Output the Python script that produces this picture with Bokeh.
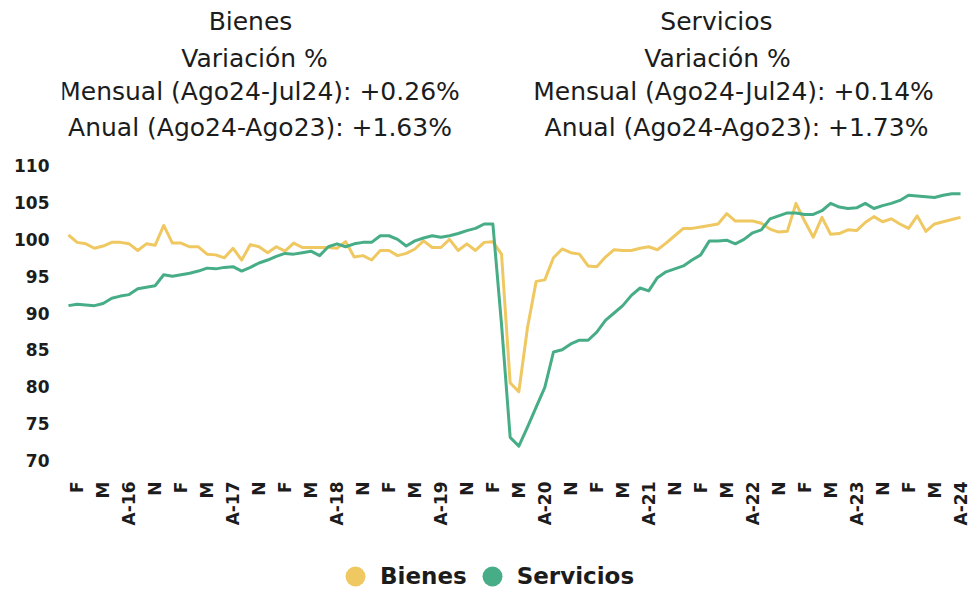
import math
from bokeh.plotting import figure
from bokeh.layouts import column
from bokeh.models import Range1d, FixedTicker, Legend, LegendItem
from bokeh.core.properties import value
from bokeh.embed import file_html
from bokeh.resources import INLINE

# ---------------- data (monthly index, Jan-2016 .. Aug-2024) ----------------
month_index = list(range(104))

bienes = [
    100.6, 99.6, 99.4, 98.8, 99.1, 99.6, 99.6, 99.4, 98.5, 99.4,
    99.2, 101.9, 99.5, 99.5, 99.0, 99.0, 98.0, 97.9, 97.5, 98.8,
    97.2, 99.3, 99.0, 98.2, 99.0, 98.4, 99.5, 98.9, 98.9, 98.9,
    98.9, 98.8, 99.7, 97.6, 97.8, 97.2, 98.5, 98.5, 97.8, 98.1,
    98.7, 99.8, 98.9, 98.9, 100.0, 98.5, 99.4, 98.5, 99.6, 99.7,
    98.0, 80.5, 79.3, 88.0, 94.3, 94.5, 97.5, 98.7, 98.2, 98.0,
    96.4, 96.3, 97.6, 98.6, 98.5, 98.5, 98.8, 99.0, 98.6, 99.5,
    100.5, 101.5, 101.5, 101.7, 101.9, 102.1, 103.5, 102.5, 102.5, 102.5,
    102.2, 101.4, 101.0, 101.1, 104.9, 102.5, 100.3, 103.0, 100.7, 100.8,
    101.3, 101.2, 102.3, 103.1, 102.4, 102.8, 102.1, 101.5, 103.2, 101.1,
    102.1, 102.4, 102.7, 103.0,
]

servicios = [
    91.0, 91.2, 91.1, 91.0, 91.3, 92.0, 92.3, 92.5, 93.3, 93.5,
    93.7, 95.2, 95.0, 95.2, 95.4, 95.7, 96.1, 96.0, 96.2, 96.3,
    95.7, 96.2, 96.8, 97.2, 97.7, 98.1, 98.0, 98.2, 98.4, 97.8,
    99.0, 99.4, 99.0, 99.4, 99.6, 99.6, 100.5, 100.5, 100.0, 99.1,
    99.8, 100.2, 100.5, 100.3, 100.5, 100.8, 101.2, 101.5, 102.1, 102.1,
    88.5, 73.1, 71.9, 74.5, 77.2, 79.9, 84.7, 85.0, 85.8, 86.3,
    86.3, 87.4, 89.0, 90.0, 91.0, 92.4, 93.4, 93.0, 94.8, 95.6,
    96.0, 96.4, 97.2, 97.9, 99.8, 99.8, 99.9, 99.4, 100.0, 100.9,
    101.3, 102.8, 103.2, 103.6, 103.6, 103.4, 103.4, 103.9, 104.9, 104.4,
    104.2, 104.3, 104.9, 104.2, 104.6, 104.9, 105.3, 106.0, 105.9, 105.8,
    105.7, 106.0, 106.2, 106.2,
]

tick_labels = [
    "F", "M", "A-16", "N", "F", "M", "A-17", "N", "F", "M", "A-18", "N",
    "F", "M", "A-19", "N", "F", "M", "A-20", "N", "F", "M", "A-21", "N",
    "F", "M", "A-22", "N", "F", "M", "A-23", "N", "F", "M", "A-24",
]
tick_months = [1 + 3 * k for k in range(len(tick_labels))]
y_ticks = [70, 75, 80, 85, 90, 95, 100, 105, 110]

series_names = ["Bienes", "Servicios"]
header_left = ["Bienes", "Variación %", "Mensual (Ago24-Jul24): +0.26%", "Anual (Ago24-Ago23): +1.63%"]
header_right = ["Servicios", "Variación %", "Mensual (Ago24-Jul24): +0.14%", "Anual (Ago24-Ago23): +1.73%"]

# ---------------- style ----------------
YELLOW = "#EFC862"
GREEN = "#47AD86"
TEXT = "#1c1c1c"
FONT = "DejaVu Sans"
W = 976
FRAME_L, FRAME_R = 62, 966   # frame edges in page pixels (shared by the column)


def bare(fig):
    fig.outline_line_color = None
    fig.xgrid.visible = False
    fig.ygrid.visible = False
    fig.background_fill_color = "white"
    fig.border_fill_color = "white"


# ---------------- header (two centred text blocks) ----------------
# the column aligns frames, so the header x-range is expressed in page pixels
head = figure(width=W, height=150, x_range=Range1d(FRAME_L, FRAME_R), y_range=Range1d(150, 0),
              x_axis_location=None, y_axis_location=None,
              output_backend="svg", toolbar_location=None, min_border=0)
bare(head)
head_x = [250, 254, 259, 259.5, 716, 717, 733, 736]
head_y = [21, 57.5, 90.5, 127, 21, 57.5, 90.5, 127]
head.text(x=head_x, y=head_y, text=header_left + header_right,
          text_align="center", text_baseline="middle",
          text_font=value(FONT), text_font_size="25px", text_color=TEXT)

# ---------------- main chart ----------------
p = figure(
    width=W, height=378,
    x_range=Range1d(-0.69, 103.69), y_range=Range1d(69, 111),
    output_backend="svg", toolbar_location=None,
    min_border_left=FRAME_L, min_border_right=W - FRAME_R, min_border_top=8, min_border_bottom=60,
)
bare(p)

p.line(month_index, bienes, line_color=YELLOW, line_width=3, line_join="round")
p.line(month_index, servicios, line_color=GREEN, line_width=3, line_join="round")

p.xaxis.ticker = FixedTicker(ticks=tick_months)
p.xaxis.major_label_overrides = {m: lab for m, lab in zip(tick_months, tick_labels)}
p.xaxis.major_label_orientation = math.pi / 2
p.xaxis.axis_line_color = None
p.xaxis.major_tick_line_color = None
p.xaxis.minor_tick_line_color = None
p.xaxis.major_label_standoff = 8
p.xaxis.major_label_text_font = FONT
p.xaxis.major_label_text_font_style = "bold"
p.xaxis.major_label_text_font_size = "17px"
p.xaxis.major_label_text_color = TEXT

p.yaxis.ticker = FixedTicker(ticks=y_ticks)
p.yaxis.axis_line_color = None
p.yaxis.major_tick_line_color = None
p.yaxis.minor_tick_line_color = None
p.yaxis.major_label_standoff = 7
p.yaxis.major_label_text_font = FONT
p.yaxis.major_label_text_font_style = "bold"
p.yaxis.major_label_text_font_size = "17px"
p.yaxis.major_label_text_color = TEXT

# ---------------- footer legend ----------------
foot = figure(width=W, height=62, x_range=Range1d(0, 1), y_range=Range1d(0, 1),
              x_axis_location=None, y_axis_location=None,
              output_backend="svg", toolbar_location=None, min_border=0)
bare(foot)
s1 = foot.scatter(x=month_index, y=bienes, marker="circle", fill_color=YELLOW, line_color=None, visible=False)
s2 = foot.scatter(x=month_index, y=servicios, marker="circle", fill_color=GREEN, line_color=None, visible=False)
legend = Legend(
    items=[LegendItem(label=series_names[0], renderers=[s1]),
           LegendItem(label=series_names[1], renderers=[s2])],
    location=(268, -11), orientation="horizontal",
    glyph_width=50, glyph_height=50, label_standoff=0, spacing=0,
    padding=0, margin=0, border_line_color=None, background_fill_alpha=0,
    label_text_font=FONT, label_text_font_style="bold",
    label_text_font_size="23px", label_text_color=TEXT,
)
foot.add_layout(legend)

layout = column(head, p, foot, spacing=0)
open("out.html", "w").write(file_html(layout, INLINE))
